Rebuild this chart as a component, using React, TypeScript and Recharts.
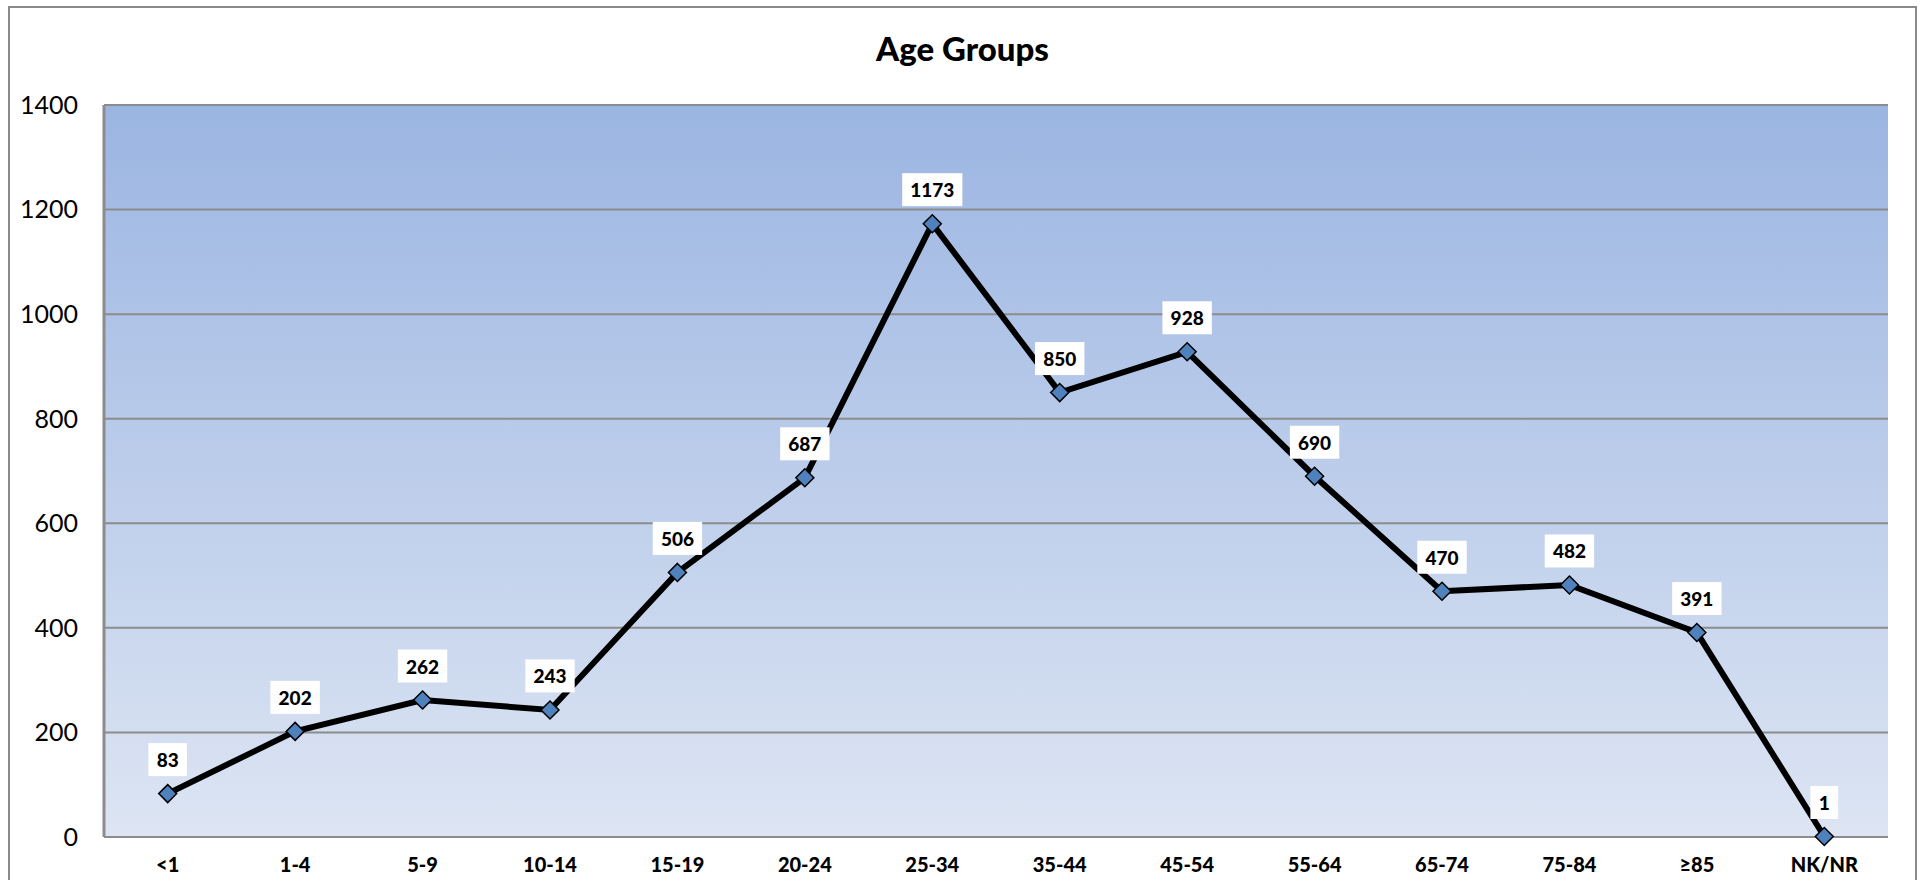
import React from "react";
import { CartesianGrid, LabelList, Line, LineChart, XAxis, YAxis } from "recharts";

const ageGroups = ["<1", "1-4", "5-9", "10-14", "15-19", "20-24", "25-34", "35-44", "45-54", "55-64", "65-74", "75-84", "≥85", "NK/NR"];
const cases = [83, 202, 262, 243, 506, 687, 1173, 850, 928, 690, 470, 482, 391, 1];
const yTicks = [0, 200, 400, 600, 800, 1000, 1200, 1400];

const data = ageGroups.map((group, i) => ({ group, cases: cases[i] }));

const FONT = "Lato, 'Open Sans', sans-serif";

const Diamond = (props: any) => {
  const { cx, cy } = props;
  if (cx == null || cy == null) return null;
  const s = 9;
  return (
    <path
      d={`M${cx},${cy - s} L${cx + s},${cy} L${cx},${cy + s} L${cx - s},${cy} Z`}
      fill="#4F81BD"
      stroke="#000"
      strokeWidth={1.5}
    />
  );
};

const BoxLabel = (props: any) => {
  const { x, y, value } = props;
  const text = String(value);
  const w = text.length * 10.8 + 17;
  const h = 33;
  const cy = y - 34;
  return (
    <g>
      <rect x={x - w / 2} y={cy - h / 2} width={w} height={h} fill="#fff" />
      <text
        x={x}
        y={cy}
        textAnchor="middle"
        dominantBaseline="central"
        fontFamily={FONT}
        fontWeight={900}
        fontSize={19}
        fill="#000"
      >
        {text}
      </text>
    </g>
  );
};

export default function App() {
  return (
    <div
      style={{
        position: "absolute",
        top: 6,
        left: 8,
        width: 1905,
        height: 872,
        border: "2px solid #8a8a8a",
        borderBottom: "none",
        background: "#fff",
        fontFamily: FONT,
        overflow: "hidden",
      }}
    >
      <div
        style={{
          position: "absolute",
          top: 20,
          left: 0,
          width: 1905,
          textAlign: "center",
          fontSize: 33,
          fontWeight: 900,
          color: "#000",
        }}
      >
        Age Groups
      </div>
      <LineChart width={1905} height={872} data={data} margin={{ top: 97, right: 27, left: 0, bottom: 7 }}>
        <defs>
          <linearGradient id="plotBg" x1="0" y1="0" x2="0" y2="1">
            <stop offset="0%" stopColor="#9BB5E2" />
            <stop offset="100%" stopColor="#DDE5F3" />
          </linearGradient>
        </defs>
        <CartesianGrid vertical={false} stroke="#8c8c8c" strokeWidth={2} fill="url(#plotBg)" fillOpacity={1} />
        <XAxis
          dataKey="group"
          height={36}
          padding={{ left: 63.7, right: 63.7 }}
          axisLine={{ stroke: "#8c8c8c", strokeWidth: 2 }}
          tickLine={false}
          tickMargin={15}
          tick={{ fill: "#000", fontSize: 20, fontWeight: 900, fontFamily: FONT }}
          interval={0}
        />
        <YAxis
          width={94}
          domain={[0, 1400]}
          ticks={yTicks}
          axisLine={{ stroke: "#8c8c8c", strokeWidth: 3 }}
          tickLine={false}
          tickMargin={20}
          tick={{ fill: "#000", fontSize: 25, fontFamily: FONT }}
        />
        <Line
          type="linear"
          dataKey="cases"
          stroke="#000"
          strokeWidth={6}
          dot={<Diamond />}
          activeDot={false}
          isAnimationActive={false}
        >
          <LabelList dataKey="cases" content={<BoxLabel />} />
        </Line>
      </LineChart>
    </div>
  );
}
